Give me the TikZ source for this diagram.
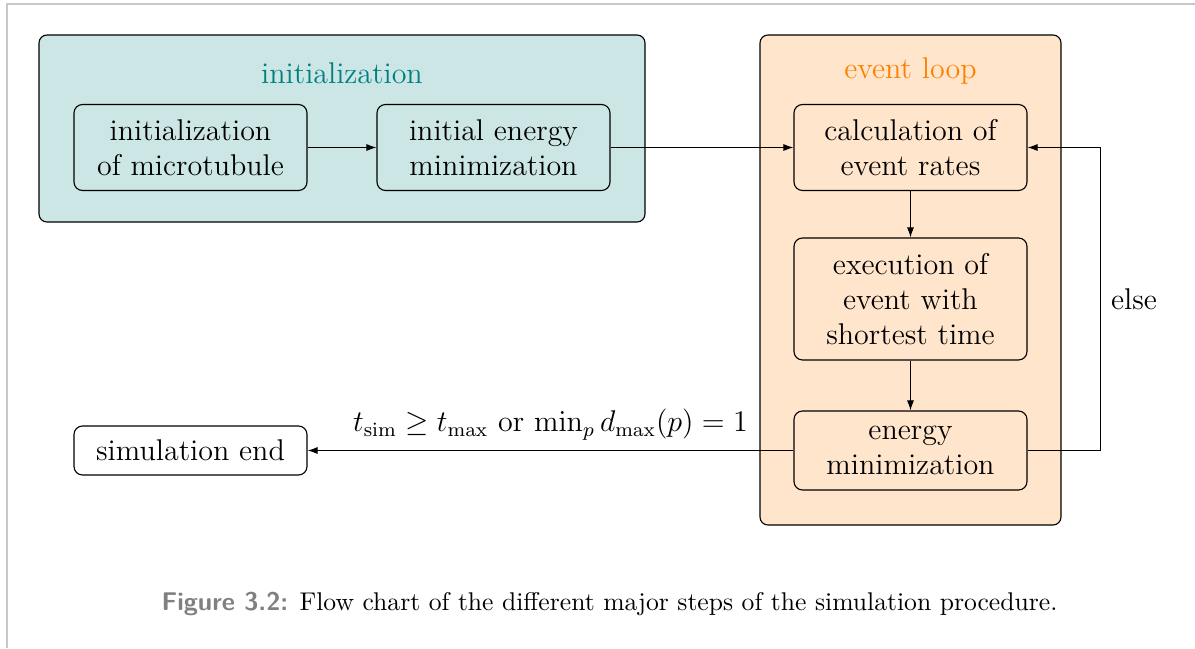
\documentclass[tikz,border=0pt]{standalone}
\usetikzlibrary{arrows.meta}
\definecolor{framegray}{RGB}{200,200,200}
\definecolor{capgray}{RGB}{128,128,128}
\tikzset{
  grp/.style={draw=black, line width=0.45pt, rounded corners=3.2pt},
  stepbox/.style={draw=black, line width=0.45pt, rounded corners=3.4pt, align=center,
    minimum width=93.2pt, inner sep=0pt, font=\large},
  arr/.style={-{Latex[length=4pt,width=2.8pt]}, line width=0.4pt},
}
\begin{document}
\begin{tikzpicture}[x=0.4pt,y=-0.4pt]
\useasboundingbox (0,0) rectangle (1195,648);
% page frame
\draw[framegray, line width=0.8pt] (7,648) -- (7,4) -- (1195,4);
% groups
\node[grp, fill=teal!20, minimum width=242.4pt, minimum height=74.8pt] (ginit) at (342,128.5) {};
\node[text=teal, font=\large] (tinit) at (342,73) {initialization};
\node[grp, fill=orange!20, minimum width=120.4pt, minimum height=196pt] (gloop) at (910.5,280) {};
\node[text=orange, font=\large] (tloop) at (910.5,71) {event loop};
% steps
\node[stepbox, minimum height=34.4pt] (a) at (190.5,147.5) {initialization\\of microtubule};
\node[stepbox, minimum height=34.4pt] (b) at (493.5,147.5) {initial energy\\minimization};
\node[stepbox, minimum height=34.4pt] (c) at (910.5,147.5) {calculation of\\event rates};
\node[stepbox, minimum height=48.8pt] (d) at (910.5,299) {execution of\\event with\\shortest time};
\node[stepbox, minimum height=31.6pt] (e) at (910.5,450.5) {energy\\minimization};
\node[stepbox, minimum height=19.6pt] (f) at (190.5,450.5) {simulation end};
% connectors
\draw[arr] (a) -- (b);
\draw[arr] (b) -- (c);
\draw[arr] (c) -- (d);
\draw[arr] (d) -- (e);
\draw[arr] (e) -- (f) node[midway, above, font=\large, inner sep=4pt] {$t_{\mathrm{sim}}\geq t_{\max}$ or $\min_p d_{\max}(p)=1$};
\draw[arr] (e.east) -- ++(73,0) |- (c.east) node[pos=0.25, right, font=\large, inner sep=4pt] {else};
% caption
\node[anchor=base, font=\fontsize{10.25}{12.3}\selectfont] (cap) at (609.5,610) {{\sffamily\bfseries\color{capgray}Figure 3.2:} Flow chart of the different major steps of the simulation procedure.};
\end{tikzpicture}
\end{document}
